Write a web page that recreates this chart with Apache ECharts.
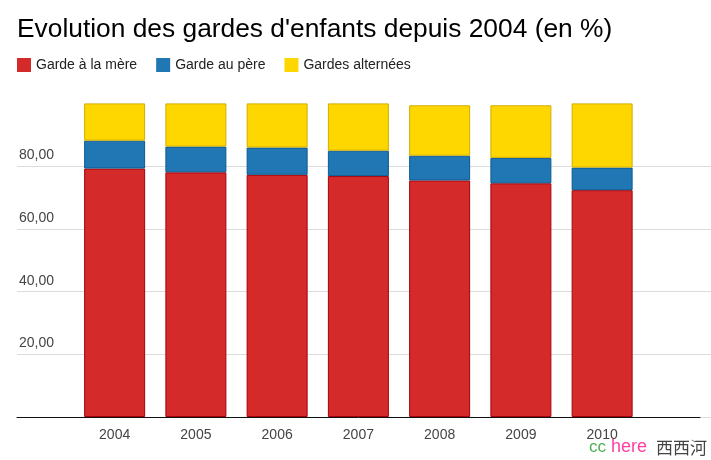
<!DOCTYPE html>
<html>
<head>
<meta charset="utf-8">
<script src="https://cdn.jsdelivr.net/npm/echarts@6/dist/echarts.min.js"></script>
<style>html,body{margin:0;padding:0;background:#fff;}#c{width:711px;height:460px;}</style>
</head>
<body>
<div id="c"></div>
<script>
const years = ['2004', '2005', '2006', '2007', '2008', '2009', '2010'];
const gardeMere = [79.3, 78.1, 77.3, 76.9, 75.5, 74.6, 72.4];
const gardePere = [8.9, 8.2, 8.7, 8.1, 7.9, 8.1, 7.2];
const gardesAlternees = [11.9, 13.8, 14.1, 15.1, 16.1, 16.8, 20.5];
const yTicks = [0, 20, 40, 60, 80];
const seriesNames = ['Garde à la mère', 'Garde au père', 'Gardes alternées'];

const chart = echarts.init(document.getElementById('c'), null, {renderer: 'canvas'});
const font = 'Arial, "Liberation Sans", sans-serif';
const fmt = v => (v === 0 ? '' : v.toFixed(2).replace('.', ','));

const option = {
  animation: false,
  backgroundColor: '#fff',
  textStyle: {fontFamily: font},
  title: {
    text: "Evolution des gardes d'enfants depuis 2004 (en %)",
    left: 17, top: 17, padding: 0,
    textStyle: {fontFamily: font, fontSize: 26.35, fontWeight: 'normal', color: '#000'}
  },
  legend: {
    left: 17, top: 58, padding: 0,
    itemWidth: 14, itemHeight: 14, itemGap: 19,
    icon: 'rect',
    itemStyle: {borderWidth: 0},
    textStyle: {fontFamily: font, fontSize: 14, color: '#222'},
    data: seriesNames
  },
  grid: [
    {left: 17, right: 0, top: 166.3, bottom: 43, containLabel: false},
    {left: 74, width: 568.75, top: 103.7, bottom: 43, containLabel: false},
    {left: 17, right: 11, top: 166.3, bottom: 43, containLabel: false}
  ],
  xAxis: [
    {gridIndex: 0, type: 'value', show: false},
    {gridIndex: 1, type: 'category', data: years, boundaryGap: true,
      axisLine: {show: false}, axisTick: {show: false},
      axisLabel: {margin: 11, fontFamily: font, fontSize: 14, color: '#444'}},
    {gridIndex: 2, type: 'value', min: 0, max: 1,
      axisLine: {show: true, lineStyle: {color: '#111', width: 1}},
      axisTick: {show: false}, axisLabel: {show: false}, splitLine: {show: false}}
  ],
  yAxis: [
    {gridIndex: 0, type: 'value', min: yTicks[0], max: yTicks[yTicks.length - 1], interval: 20,
      axisLine: {show: false}, axisTick: {show: false},
      axisLabel: {inside: true, margin: 2, align: 'left', verticalAlign: 'bottom', padding: [0, 0, 4, 0],
        fontFamily: font, fontSize: 14, color: '#444', formatter: fmt},
      splitLine: {show: true, lineStyle: {color: '#dcdcdc', width: 1}}},
    {gridIndex: 1, type: 'value', min: 0, max: 100, show: false, splitLine: {show: false}},
    {gridIndex: 2, type: 'value', show: false, splitLine: {show: false}}
  ],
  series: [
    {name: seriesNames[0], type: 'bar', stack: 'g', xAxisIndex: 1, yAxisIndex: 1, barWidth: 61,
      data: gardeMere, itemStyle: {color: '#d52a2a', borderColor: '#a8000a', borderWidth: 1}},
    {name: seriesNames[1], type: 'bar', stack: 'g', xAxisIndex: 1, yAxisIndex: 1, barWidth: 61,
      data: gardePere, itemStyle: {color: '#2077b4', borderColor: '#0d5a91', borderWidth: 1}},
    {name: seriesNames[2], type: 'bar', stack: 'g', xAxisIndex: 1, yAxisIndex: 1, barWidth: 61,
      data: gardesAlternees, itemStyle: {color: '#fed600', borderColor: '#d2ad00', borderWidth: 1}}
  ],
  graphic: [
    {type: 'text', left: 589, top: 439, style: {text: 'cc', font: '17px ' + font, fill: '#4caf50'}},
    {type: 'text', left: 611, top: 438, style: {text: 'here', font: '18px ' + font, fill: '#ff3fa4'}},
    {type: 'text', left: 656, top: 439, style: {text: '西西河', font: '17px "Noto Sans CJK SC", sans-serif', fill: '#444'}}
  ]
};
chart.setOption(option);
</script>
</body>
</html>
